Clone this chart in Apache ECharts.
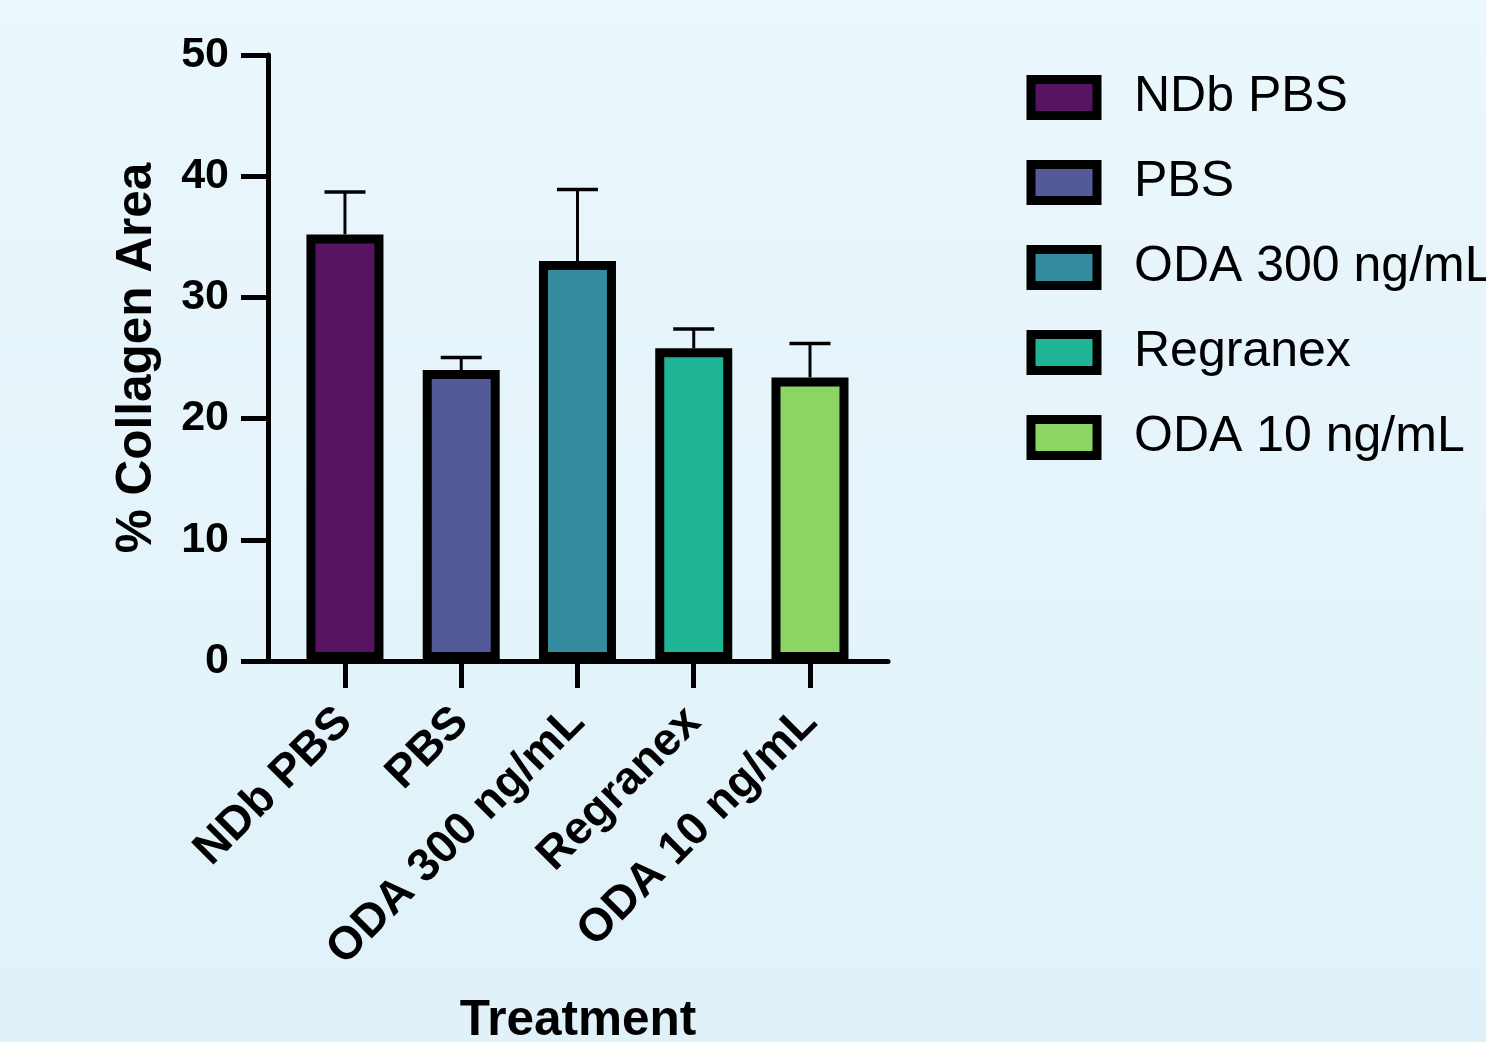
<!DOCTYPE html>
<html>
<head>
<meta charset="utf-8">
<script src="https://cdn.jsdelivr.net/npm/echarts@6/dist/echarts.min.js"></script>
<style>
html,body{margin:0;padding:0;}
#chart{width:1486px;height:1042px;}
</style>
</head>
<body>
<div id="chart"></div>
<script>
const categories = ['NDb PBS', 'PBS', 'ODA 300 ng/mL', 'Regranex', 'ODA 10 ng/mL'];
const means = [35.2, 24.0, 33.0, 25.8, 23.4];
const upper = [38.7, 25.05, 38.9, 27.4, 26.2];
const colors = ['#561463', '#535A97', '#358B9F', '#20B496', '#8CD564'];
const yTicks = [0, 10, 20, 30, 40, 50];

const FONT = 'Liberation Sans, Arial, Helvetica, sans-serif';
const chart = echarts.init(document.getElementById('chart'));

const barSeries = categories.map((name, i) => ({
  name: name,
  type: 'bar',
  stack: 'all',
  data: [[i, means[i]]],
  barWidth: 77,
  itemStyle: { color: colors[i], borderColor: '#000', borderWidth: 9 },
  z: 3
}));

const errSeries = {
  type: 'custom',
  data: categories.map((c, i) => [i, means[i], upper[i]]),
  z: 2,
  silent: true,
  renderItem: function (params, api) {
    const x = api.value(0);
    const lo = api.coord([x, api.value(1)]);
    const hi = api.coord([x, api.value(2)]);
    const half = 20.5;
    return {
      type: 'group',
      children: [
        { type: 'line', shape: { x1: lo[0], y1: lo[1], x2: hi[0], y2: hi[1] }, style: { stroke: '#000', lineWidth: 3 } },
        { type: 'line', shape: { x1: hi[0] - half, y1: hi[1], x2: hi[0] + half, y2: hi[1] }, style: { stroke: '#000', lineWidth: 3.5 } }
      ]
    };
  }
};

const option = {
  backgroundColor: {
    type: 'linear', x: 0, y: 0, x2: 0, y2: 1,
    colorStops: [{ offset: 0, color: '#eaf7fc' }, { offset: 1, color: '#e0f1f9' }]
  },
  animation: false,
  textStyle: { fontFamily: FONT },
  grid: { left: 268, top: 55, width: 620, height: 606, containLabel: false, outerBoundsMode: 'none' },
  legend: {
    orient: 'vertical',
    left: 1021.5,
    top: 67.5,
    padding: 5,
    itemWidth: 66,
    itemHeight: 36,
    itemGap: 35,
    icon: 'rect',
    itemStyle: { borderColor: '#000', borderWidth: 9 },
    textStyle: { fontFamily: FONT, fontSize: 50, color: '#000', padding: [0, 0, 0, 32] },
    data: categories
  },
  xAxis: {
    type: 'value',
    min: -0.662,
    max: 4.671,
    name: 'Treatment',
    nameLocation: 'middle',
    nameGap: 335,
    nameMoveOverlap: false,
    nameTextStyle: { fontFamily: FONT, fontSize: 49.5, fontWeight: 'bold', color: '#000' },
    splitLine: { show: false },
    axisLine: { show: true, onZero: false, lineStyle: { color: '#000', width: 5 } },
    axisTick: { show: true, customValues: [0, 1, 2, 3, 4], length: 27, lineStyle: { color: '#000', width: 5 } },
    axisLabel: {
      show: true,
      customValues: [0, 1, 2, 3, 4],
      formatter: function (v) { return categories[Math.round(v)]; },
      rotate: 45,
      margin: 54,
      hideOverlap: false,
      fontFamily: FONT, fontSize: 46, fontWeight: 'bold', color: '#000'
    }
  },
  yAxis: {
    type: 'value',
    min: yTicks[0],
    max: yTicks[yTicks.length - 1],
    interval: 10,
    name: '% Collagen Area',
    nameLocation: 'middle',
    nameGap: 106,
    nameMoveOverlap: false,
    nameTextStyle: { fontFamily: FONT, fontSize: 49.5, fontWeight: 'bold', color: '#000' },
    splitLine: { show: false },
    axisLine: { show: true, onZero: false, lineStyle: { color: '#000', width: 5 } },
    axisTick: { show: true, length: 27, lineStyle: { color: '#000', width: 5 } },
    axisLabel: { margin: 39, fontFamily: FONT, fontSize: 43, fontWeight: 'bold', color: '#000' }
  },
  series: [errSeries].concat(barSeries)
};
chart.setOption(option);
</script>
</body>
</html>
